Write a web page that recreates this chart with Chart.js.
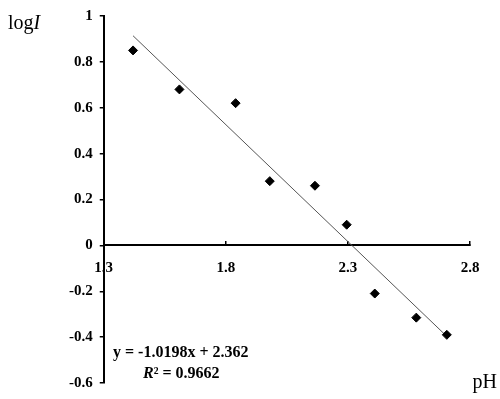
<!DOCTYPE html>
<html>
<head>
<meta charset="utf-8">
<script src="https://cdn.jsdelivr.net/npm/chart.js@4/dist/chart.umd.min.js"></script>
<style>
  html, body { margin: 0; padding: 0; background: #fff; }
  #wrap { width: 500px; height: 399px; position: relative; }
</style>
</head>
<body>
<div id="wrap"><canvas id="phChart"></canvas></div>
<script>
// measured points (pH vs logI)
const phValues = [1.42, 1.61, 1.84, 1.98, 2.165, 2.295, 2.41, 2.58, 2.705];
const logIValues = [0.85, 0.68, 0.62, 0.28, 0.26, 0.09, -0.21, -0.315, -0.39];
// linear fit shown on the chart
const trendSlope = -1.0198;
const trendIntercept = 2.362;
const trendRange = [1.42, 2.71];
const xStep = 0.5;
const yStep = 0.2;

const serif = "'Liberation Serif', 'Times New Roman', serif";

// axis names + equation text
const textPlugin = {
  id: "texts",
  afterDraw(chart) {
    const ctx = chart.ctx;
    ctx.save();
    ctx.fillStyle = "#000";
    ctx.textBaseline = "alphabetic";
    ctx.textAlign = "left";
    ctx.font = "20px " + serif;
    ctx.fillText("log", 8, 29);
    const w = ctx.measureText("log").width;
    ctx.font = "italic 20px " + serif;
    ctx.fillText("I", 8 + w, 29);
    ctx.font = "20px " + serif;
    ctx.textAlign = "right";
    ctx.fillText("pH", 497, 388);

    ctx.textAlign = "left";
    ctx.font = "bold 16px " + serif;
    ctx.fillText("y = -1.0198x + 2.362", 113, 357);
    ctx.font = "bold italic 16px " + serif;
    ctx.fillText("R", 143, 378);
    const rw = ctx.measureText("R").width;
    ctx.font = "bold 16px " + serif;
    ctx.fillText("² = 0.9662", 143 + rw, 378);
    ctx.restore();
  },
};

const phChart = new Chart(document.getElementById("phChart"), {
  type: "scatter",
  data: {
    datasets: [
      {
        label: "logI",
        data: phValues.map((x, i) => ({ x: x, y: logIValues[i] })),
        pointStyle: "rectRot",
        pointRadius: 4.5,
        backgroundColor: "#000",
        borderColor: "#000",
      },
      {
        label: "fit",
        type: "line",
        data: trendRange.map((x) => ({ x: x, y: trendSlope * x + trendIntercept })),
        borderColor: "#555",
        borderWidth: 1,
        pointRadius: 0,
      },
    ],
  },
  options: {
    responsive: true,
    maintainAspectRatio: false,
    animation: false,
    layout: { padding: { left: 62, top: 5, right: 30, bottom: 9 } },
    plugins: { legend: { display: false }, tooltip: { enabled: false } },
    scales: {
      x: {
        type: "linear",
        position: { y: 0 },
        min: 1.3,
        max: 2.8,
        border: { color: "#000", width: 2 },
        grid: { drawOnChartArea: false, tickLength: -5, color: "#000", lineWidth: 1.5 },
        ticks: {
          stepSize: xStep,
          color: "#000",
          padding: 19,
          font: { family: serif, size: 15, weight: "bold" },
          callback: (v) => v.toFixed(1),
        },
      },
      y: {
        type: "linear",
        min: -0.6,
        max: 1,
        border: { color: "#000", width: 2 },
        grid: { drawOnChartArea: false, tickLength: 4, color: "#000", lineWidth: 1.5 },
        ticks: {
          stepSize: yStep,
          color: "#000",
          padding: 7,
          font: { family: serif, size: 15, weight: "bold" },
          callback: (v) => (Math.abs(v) < 1e-9 ? "0" : v === 1 ? "1" : v.toFixed(1)),
        },
      },
    },
  },
  plugins: [textPlugin],
});
</script>
</body>
</html>
